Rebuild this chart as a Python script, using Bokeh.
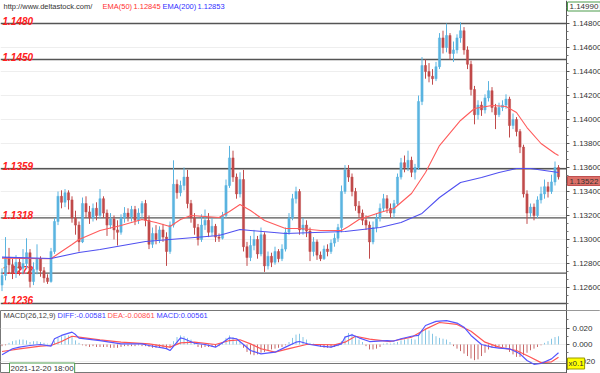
from bokeh.plotting import figure
from bokeh.layouts import column
from bokeh.models import (Range1d, FixedTicker, NumeralTickFormatter, Label, ColumnDataSource,
                          LinearAxis, Grid)
from bokeh.embed import file_html
from bokeh.resources import INLINE
from bokeh.core.properties import value

# ---------------- data ----------------
opens = [1.1262,1.1270,1.1285,1.1279,1.1272,1.1281,1.1276,1.1280,1.1289,1.1265,
         1.1275,1.1284,1.1274,1.1268,1.1265,1.1290,1.1315,1.1336,1.1331,1.1339,
         1.1333,1.1318,1.1312,1.1298,1.1330,1.1323,1.1318,1.1326,1.1320,1.1334,
         1.1322,1.1312,1.1317,1.1308,1.1306,1.1318,1.1322,1.1319,1.1325,1.1316,
         1.1322,1.1330,1.1316,1.1296,1.1305,1.1300,1.1308,1.1302,1.1290,1.1312,
         1.1346,1.1339,1.1345,1.1352,1.1330,1.1318,1.1310,1.1300,1.1312,1.1316,
         1.1306,1.1311,1.1302,1.1301,1.1320,1.1345,1.1368,1.1352,1.1338,1.1350,
         1.1294,1.1285,1.1295,1.1300,1.1288,1.1304,1.1278,1.1286,1.1281,1.1290,
         1.1284,1.1292,1.1306,1.1318,1.1334,1.1340,1.1308,1.1312,1.1307,1.1290,
         1.1298,1.1287,1.1284,1.1292,1.1290,1.1297,1.1301,1.1310,1.1340,1.1358,
         1.1352,1.1340,1.1328,1.1322,1.1316,1.1312,1.1298,1.1310,1.1318,1.1326,
         1.1334,1.1326,1.1322,1.1330,1.1352,1.1364,1.1360,1.1366,1.1356,1.1360,
         1.1415,1.1445,1.1440,1.1436,1.1434,1.1444,1.1468,1.1460,1.1470,1.1455,
         1.1458,1.1468,1.1474,1.1458,1.1446,1.1425,1.1404,1.1412,1.1408,1.1418,
         1.1424,1.1410,1.1404,1.1410,1.1412,1.1417,1.1395,1.1400,1.1390,1.1377,
         1.1338,1.1322,1.1327,1.1320,1.1333,1.1338,1.1344,1.1340,1.1348,1.1360]
highs = [1.1276,1.1302,1.1293,1.1284,1.1287,1.1285,1.1292,1.1301,1.1292,1.1281,
         1.1296,1.1286,1.1277,1.1271,1.1293,1.1318,1.1340,1.1341,1.1342,1.1341,
         1.1336,1.1324,1.1315,1.1335,1.1336,1.1328,1.1330,1.1331,1.1342,1.1336,
         1.1325,1.1322,1.1320,1.1316,1.1321,1.1327,1.1326,1.1328,1.1328,1.1326,
         1.1332,1.1333,1.1320,1.1310,1.1312,1.1311,1.1313,1.1306,1.1315,1.1366,
         1.1350,1.1349,1.1360,1.1358,1.1333,1.1322,1.1313,1.1321,1.1325,1.1322,
         1.1318,1.1313,1.1305,1.1323,1.1350,1.1378,1.1374,1.1355,1.1356,1.1358,
         1.1298,1.1303,1.1308,1.1303,1.1310,1.1306,1.1290,1.1289,1.1294,1.1292,
         1.1296,1.1310,1.1322,1.1338,1.1344,1.1342,1.1318,1.1316,1.1310,1.1302,
         1.1300,1.1290,1.1295,1.1296,1.1300,1.1305,1.1313,1.1345,1.1362,1.1362,
         1.1355,1.1343,1.1332,1.1325,1.1320,1.1315,1.1315,1.1322,1.1330,1.1338,
         1.1337,1.1330,1.1333,1.1355,1.1368,1.1370,1.1374,1.1369,1.1363,1.1420,
         1.1452,1.1450,1.1447,1.1442,1.1448,1.1472,1.1474,1.1480,1.1472,1.1465,
         1.1471,1.1481,1.1477,1.1461,1.1449,1.1428,1.1416,1.1415,1.1421,1.1432,
         1.1427,1.1413,1.1414,1.1416,1.1421,1.1419,1.1405,1.1402,1.1392,1.1379,
         1.1341,1.1330,1.1330,1.1336,1.1344,1.1350,1.1348,1.1354,1.1365,1.1362]
lows = [1.1257,1.1266,1.1272,1.1267,1.1268,1.1270,1.1271,1.1276,1.1260,1.1262,
        1.1271,1.1269,1.1264,1.1263,1.1264,1.1288,1.1312,1.1326,1.1327,1.1325,
        1.1314,1.1304,1.1290,1.1297,1.1318,1.1313,1.1315,1.1316,1.1318,1.1318,
        1.1303,1.1309,1.1300,1.1295,1.1304,1.1314,1.1315,1.1315,1.1312,1.1313,
        1.1318,1.1311,1.1292,1.1293,1.1296,1.1297,1.1298,1.1278,1.1288,1.1310,
        1.1334,1.1336,1.1341,1.1326,1.1314,1.1304,1.1295,1.1298,1.1308,1.1302,
        1.1303,1.1298,1.1298,1.1300,1.1318,1.1343,1.1348,1.1334,1.1335,1.1290,
        1.1278,1.1282,1.1291,1.1284,1.1286,1.1273,1.1275,1.1277,1.1279,1.1281,
        1.1282,1.1290,1.1304,1.1316,1.1330,1.1304,1.1304,1.1302,1.1282,1.1286,
        1.1283,1.1282,1.1283,1.1286,1.1288,1.1294,1.1298,1.1306,1.1338,1.1348,
        1.1336,1.1324,1.1318,1.1312,1.1308,1.1284,1.1296,1.1306,1.1315,1.1323,
        1.1322,1.1318,1.1318,1.1328,1.1350,1.1356,1.1357,1.1352,1.1350,1.1358,
        1.1412,1.1434,1.1431,1.1429,1.1432,1.1442,1.1455,1.1456,1.1450,1.1448,
        1.1455,1.1464,1.1454,1.1442,1.1420,1.1396,1.1400,1.1403,1.1405,1.1415,
        1.1406,1.1392,1.1402,1.1407,1.1409,1.1385,1.1392,1.1386,1.1372,1.1335,
        1.1313,1.1319,1.1316,1.1318,1.1330,1.1334,1.1335,1.1338,1.1345,1.1350]
closes = [1.1270,1.1285,1.1279,1.1272,1.1281,1.1276,1.1280,1.1289,1.1265,1.1275,
          1.1284,1.1274,1.1268,1.1265,1.1290,1.1315,1.1336,1.1331,1.1339,1.1333,
          1.1318,1.1312,1.1298,1.1330,1.1323,1.1318,1.1326,1.1320,1.1334,1.1322,
          1.1312,1.1317,1.1308,1.1306,1.1318,1.1322,1.1319,1.1325,1.1316,1.1322,
          1.1330,1.1316,1.1296,1.1305,1.1300,1.1308,1.1302,1.1290,1.1312,1.1346,
          1.1339,1.1345,1.1352,1.1330,1.1318,1.1310,1.1300,1.1312,1.1316,1.1306,
          1.1311,1.1302,1.1301,1.1320,1.1345,1.1368,1.1352,1.1338,1.1350,1.1294,
          1.1285,1.1295,1.1300,1.1288,1.1304,1.1278,1.1286,1.1281,1.1290,1.1284,
          1.1292,1.1306,1.1318,1.1334,1.1340,1.1308,1.1312,1.1307,1.1290,1.1298,
          1.1287,1.1284,1.1292,1.1290,1.1297,1.1301,1.1310,1.1340,1.1358,1.1352,
          1.1340,1.1328,1.1322,1.1316,1.1312,1.1298,1.1310,1.1318,1.1326,1.1334,
          1.1326,1.1322,1.1330,1.1352,1.1364,1.1360,1.1366,1.1356,1.1360,1.1415,
          1.1445,1.1440,1.1436,1.1434,1.1444,1.1468,1.1460,1.1470,1.1455,1.1458,
          1.1468,1.1474,1.1458,1.1446,1.1425,1.1404,1.1412,1.1408,1.1418,1.1424,
          1.1410,1.1404,1.1410,1.1412,1.1417,1.1395,1.1400,1.1390,1.1377,1.1338,
          1.1322,1.1327,1.1320,1.1333,1.1338,1.1344,1.1340,1.1348,1.1360,1.13522]

ema50_x = [0, 14, 17, 20, 22, 28, 34, 40, 44, 48, 51, 54, 62, 65, 68, 71, 75, 81, 85, 91,
           97, 99, 102, 108, 112, 117, 121, 125, 131, 135, 140, 144, 147, 150, 154, 158, 159]
ema50_v = [1.12845, 1.12840, 1.12900, 1.12958, 1.13000, 1.13075, 1.13117, 1.13167, 1.13142, 1.13108,
           1.13167, 1.13200, 1.13183, 1.13233, 1.13292, 1.13242, 1.13158, 1.13092, 1.13092, 1.13075,
           1.13075, 1.13108, 1.13167, 1.13225, 1.13258, 1.13383, 1.13558, 1.13783, 1.13992, 1.14092,
           1.14117, 1.14108, 1.14058, 1.13933, 1.13800, 1.13717, 1.13700]
ema200_x = [0, 14, 22, 28, 41, 48, 62, 68, 81, 98, 108, 114, 120, 125, 131, 137, 142, 147, 151, 155, 159]
ema200_v = [1.12853, 1.12842, 1.12892, 1.12917, 1.12983, 1.13000, 1.13033, 1.13083, 1.13050, 1.13067,
            1.13100, 1.13142, 1.13217, 1.13350, 1.13475, 1.13517, 1.13558, 1.13592, 1.13592, 1.13575,
            1.13558]

levels = [1.1480, 1.1450, 1.1359, 1.1318, 1.1272, 1.12467]
level_labels = ["1.1480", "1.1450", "1.1359", "1.1318", "1.1272", "1.1236"]
price_ticks = [1.126, 1.128, 1.130, 1.132, 1.134, 1.136, 1.138, 1.140, 1.142, 1.144, 1.146, 1.148]

macd_hist = [-0.002,-0.001,0.002,0.004,0.005,0.006,0.006,0.005,0.003,0.004,
             0.004,0.003,0.002,0.001,0.001,0.004,0.008,0.010,0.011,0.011,
             0.009,0.005,0.002,-0.001,-0.002,-0.003,-0.002,-0.003,-0.003,-0.003,
             -0.003,-0.004,-0.004,-0.004,-0.003,-0.002,-0.002,-0.002,-0.002,-0.001,
             -0.002,-0.002,-0.003,-0.004,-0.004,-0.004,-0.004,-0.005,-0.004,0.004,
             0.009,0.011,0.010,0.008,0.006,0.002,-0.003,-0.004,-0.003,-0.003,
             -0.003,-0.003,-0.002,0.003,0.008,0.011,0.009,0.005,0.003,-0.004,
             -0.009,-0.012,-0.013,-0.012,-0.010,-0.009,-0.007,-0.006,-0.005,-0.004,
             -0.003,-0.001,0.003,0.008,0.012,0.013,0.009,0.006,0.002,0.001,
             -0.001,-0.003,-0.004,-0.004,-0.004,-0.003,-0.002,0.004,0.010,0.014,
             0.013,0.010,0.006,0.003,-0.002,-0.006,-0.006,-0.005,-0.003,0.001,
             0.002,0.001,0.002,0.003,0.005,0.006,0.007,0.007,0.006,0.012,
             0.018,0.019,0.017,0.013,0.010,0.008,0.007,0.006,0.003,-0.002,
             -0.005,-0.008,-0.011,-0.014,-0.017,-0.019,-0.018,-0.014,-0.010,-0.006,
             -0.004,-0.004,-0.003,-0.003,-0.004,-0.009,-0.012,-0.015,-0.015,-0.013,
             -0.010,-0.007,-0.005,-0.003,-0.001,0.002,0.004,0.007,0.009,0.010]
diff_x = [0, 3, 5, 8, 11, 14, 15, 17, 20, 21, 22, 28, 34, 40, 42, 47, 48, 50, 51, 52,
          55, 58, 61, 63, 65, 67, 69, 71, 74, 78, 81, 84, 85, 88, 91, 94, 97, 98, 100, 102,
          105, 110, 112, 114, 117, 119, 121, 124, 127, 130, 132, 134, 137, 140, 142, 145, 148, 150, 152, 154,
          157, 159]
diff_v = [-0.0125, -0.0052, -0.0032, -0.0012, 0.0, -0.0020, 0.0070, 0.0110, 0.0150, 0.0120,
          0.0077, 0.0048, 0.0008, 0.0008, -0.0012, -0.0050, -0.0073, 0.0028, 0.0081, 0.0070,
          0.0015, 0.0, -0.0032, 0.0020, 0.0081, 0.0070, 0.0, -0.0073, -0.0113, -0.0093,
          -0.0032, 0.0028, 0.0036, 0.0, -0.0020, -0.0032, 0.0008, 0.0089, 0.0117, 0.0081,
          0.0036, 0.0048, 0.0042, 0.0070, 0.0100, 0.0110, 0.0230, 0.0280, 0.0290, 0.0260,
          0.0210, 0.0110, 0.0, -0.0032, -0.0045, -0.0052, -0.0113, -0.0194, -0.0240, -0.0230,
          -0.0174, -0.0100]
dea_x = [0, 5, 11, 14, 17, 20, 22, 28, 34, 42, 48, 51, 55, 61, 65, 68, 71, 74, 78, 82,
         87, 91, 95, 98, 101, 105, 111, 117, 121, 125, 130, 134, 138, 142, 147, 151, 154, 157, 159]
dea_v = [-0.0085, -0.0052, -0.0020, -0.0012, 0.0036, 0.0100, 0.0089, 0.0057, 0.0028, 0.0008,
         -0.0032, 0.0020, 0.0028, 0.0, 0.0048, 0.0057, 0.0008, -0.0052, -0.0093, -0.0050,
         0.0, 0.0, -0.0004, 0.0028, 0.0100, 0.0065, 0.0036, 0.0089, 0.0186, 0.0267,
         0.0243, 0.0160, 0.0028, -0.0032, -0.0073, -0.0154, -0.0220, -0.0210, -0.0154]
macd_ticks = [-0.02, 0.0, 0.02]

# ---------------- geometry / styling ----------------
UP = "#5ab4e0"
DN = "#c04a4a"
FONT = "Liberation Sans"
PITCH = 3.5          # px per candle
AXIS_PX = 566        # px where the price axis sits

n = len(closes)
idx = list(range(n))
cols = [UP if c >= o else DN for o, c in zip(opens, closes)]
btop = [max(o, c) for o, c in zip(opens, closes)]
bbot = [min(o, c) for o, c in zip(opens, closes)]
src = ColumnDataSource(dict(x=idx, h=highs, l=lows, t=btop, b=bbot, col=cols))

x0 = -1.5 / PITCH
xr = Range1d(x0, x0 + 600 / PITCH)
axis_x = x0 + AXIS_PX / PITCH

PX1 = 1.0 / 12000.0  # price per pixel
yr1 = Range1d(1.1480 - (310 - 23) * PX1, 1.1480 + 23 * PX1)
PX2 = 0.02 / 16.5
yr2 = Range1d(-(373 - 344) * PX2, (344 - 310) * PX2)


def style_axis(ax):
    ax.major_label_text_font = FONT
    ax.major_label_text_font_size = "8px"
    ax.major_label_text_color = "#333333"
    ax.major_tick_out = 3
    ax.major_tick_in = 0
    ax.minor_tick_out = 2
    ax.minor_tick_in = 0
    ax.axis_line_color = "#555555"
    ax.major_tick_line_color = "#555555"
    ax.minor_tick_line_color = "#777777"
    ax.major_label_standoff = 3


# ---------------- main panel ----------------
p1 = figure(width=600, height=310, x_range=xr, y_range=yr1,
            x_axis_location=None, y_axis_location=None, toolbar_location=None,
            output_backend="svg", min_border=0, outline_line_color=None,
            background_fill_color="white", border_fill_color="white")
p1.grid.visible = False
minor = [t + k * 0.002 / 3 for t in [1.124] + price_ticks for k in (1, 2)]
tick1 = FixedTicker(ticks=price_ticks, minor_ticks=minor)
p1.add_layout(Grid(dimension=1, ticker=tick1, grid_line_color="#eeeeee"))
ax1 = LinearAxis(ticker=tick1, formatter=NumeralTickFormatter(format="0.00000"),
                 fixed_location=axis_x)
style_axis(ax1)
p1.add_layout(ax1, "right")

# blank out the axis strip
p1.quad(left=[axis_x], right=[xr.end], bottom=[yr1.start], top=[yr1.end],
        fill_color="white", line_color=None)

# level lines and labels (under the candles)
p1.segment(x0=[xr.start] * len(levels), x1=[axis_x] * len(levels), y0=levels, y1=levels,
           line_color="#555555", line_width=1.4)
p1.text(x=[xr.start] * len(levels), y=levels, text=level_labels, x_offset=2, y_offset=-3,
        text_font=value(FONT), text_font_style="bold italic", text_font_size="10px",
        text_color="#ff2020", text_baseline="alphabetic", text_align="left")

# candles
p1.segment(x0="x", y0="h", x1="x", y1="l", color="col", line_width=1, source=src)
p1.vbar(x="x", top="t", bottom="b", width=0.62, fill_color="col", line_color="col",
        line_width=0.5, source=src)

# EMAs
p1.line(ema50_x, ema50_v, line_color="#ff5c5c", line_width=1.1)
p1.line(ema200_x, ema200_v, line_color="#5050f0", line_width=1.1)

# header texts
hdr = [("http://www.deltastock.com/", 3, "#333333"), ("EMA(50)", 102, "#ff3030"),
       ("1.12845", 133, "#ff3030"), ("EMA(200)", 162, "#3030ff"), ("1.12853", 197, "#3030ff")]
for t, x, c in hdr:
    p1.add_layout(Label(x=x, y=304, x_units="screen", y_units="screen", text=t,
                        text_font=FONT, text_font_size="7.5px", text_color=c,
                        text_baseline="middle"))

# price boxes on the axis
p1.add_layout(Label(x=567, y=304, x_units="screen", y_units="screen", text="1.14990",
                    text_font=FONT, text_font_size="8px", text_color="#333333",
                    text_baseline="middle", background_fill_color="white",
                    border_line_color="#4c9c4c", padding=2))
p1.add_layout(Label(x=567, y=129.5, x_units="screen", y_units="screen", text=f"{closes[-1]:.5f}",
                    text_font=FONT, text_font_size="8px", text_color="#333333",
                    text_baseline="middle", background_fill_color="#dc7068",
                    border_line_color="#c05050", padding=2))

# ---------------- MACD panel ----------------
p2 = figure(width=600, height=63, x_range=xr, y_range=yr2,
            x_axis_location=None, y_axis_location=None, toolbar_location=None,
            output_backend="svg", min_border=0, outline_line_color="#777777",
            background_fill_color="white", border_fill_color="white")
p2.grid.visible = False
tick2 = FixedTicker(ticks=macd_ticks, minor_ticks=[-0.03, -0.01, 0.01, 0.03])
p2.add_layout(Grid(dimension=1, ticker=tick2, grid_line_color="#eeeeee"))
ax2 = LinearAxis(ticker=tick2, formatter=NumeralTickFormatter(format="0.000"),
                 fixed_location=axis_x)
style_axis(ax2)
p2.add_layout(ax2, "right")

p2.quad(left=[axis_x], right=[xr.end], bottom=[yr2.start], top=[yr2.end],
        fill_color="white", line_color=None)
# bottom edge of the MACD pane / time strip
p2.segment(x0=[xr.start], x1=[axis_x], y0=[-(363 - 344) * PX2], y1=[-(363 - 344) * PX2],
           line_color="#777777", line_width=1)

hcols = ["#86c6e4" if v >= 0 else "#c86a6a" for v in macd_hist]
p2.segment(x0=idx, y0=[0] * n, x1=idx, y1=macd_hist, line_color=hcols, line_width=1)
p2.line(dea_x, dea_v, line_color="#ff5555", line_width=1.2)
p2.line(diff_x, diff_v, line_color="#5555ff", line_width=1.2)

mh = [("MACD(26,12,9)", 3, "#444444"), ("DIFF:-0.00581", 57, "#4040ff"),
      ("DEA:-0.00861", 107, "#ff5050"), ("MACD:0.00561", 156, "#4040ff")]
for t, x, c in mh:
    p2.add_layout(Label(x=x, y=58, x_units="screen", y_units="screen", text=t,
                        text_font=FONT, text_font_size="7.5px", text_color=c,
                        text_baseline="middle"))

p2.add_layout(Label(x=9, y=5, x_units="screen", y_units="screen", text="2021-12-20 18:00",
                    text_font=FONT, text_font_size="8px", text_color="#333333",
                    text_baseline="middle", background_fill_color="white",
                    border_line_color="#4c9c4c", padding=1))
p2.add_layout(Label(x=567, y=10, x_units="screen", y_units="screen", text="x0.1",
                    text_font=FONT, text_font_size="8px", text_color="#333333",
                    text_baseline="middle", background_fill_color="#ffff00",
                    border_line_color="#999900", padding=1))

layout = column(p1, p2, spacing=0)
open("out.html", "w").write(file_html(layout, INLINE))
